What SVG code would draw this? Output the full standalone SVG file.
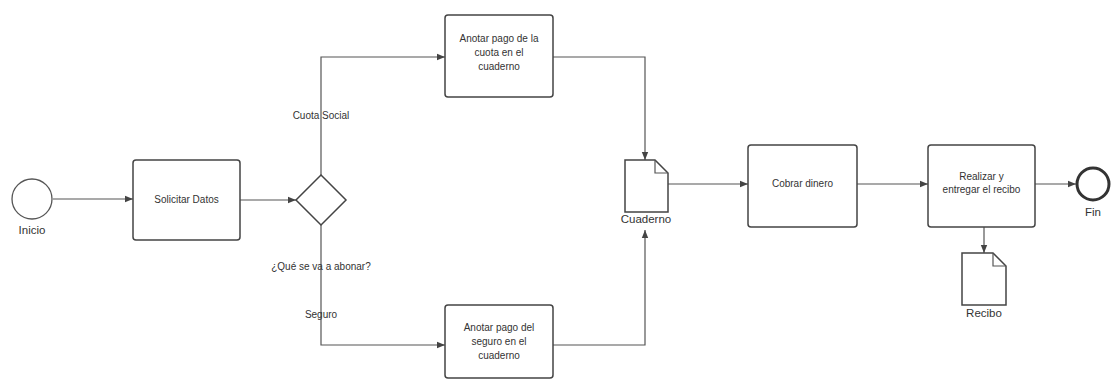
<svg xmlns="http://www.w3.org/2000/svg" width="1112" height="383" viewBox="0 0 1112 383">
<style>
.box{fill:#fff;stroke:#444;stroke-width:1.5}
.ln{fill:none;stroke:#555;stroke-width:1.2}
.t{font-family:"Liberation Sans",Arial,sans-serif;font-size:10px;fill:#333;text-anchor:middle}
.tl{font-family:"Liberation Sans",Arial,sans-serif;font-size:10px;fill:#333;text-anchor:middle}
.td{font-family:"Liberation Sans",Arial,sans-serif;font-size:11.5px;fill:#333;text-anchor:middle}
</style>
<defs>
<marker id="a" viewBox="0 0 10 10" refX="10" refY="5" markerWidth="7" markerHeight="7" orient="auto"><path d="M0,1 L10,5 L0,9 z" fill="#444"/></marker>
</defs>
<rect width="1112" height="383" fill="#fff"/>
<g id="connectors">
<path class="ln" d="M53,199 L133,199" marker-end="url(#a)"/>
<path class="ln" d="M240,200 L296,200" marker-end="url(#a)"/>
<path class="ln" d="M321,175 L321,57 L445,57" marker-end="url(#a)"/>
<path class="ln" d="M321,225 L321,345 L445,345" marker-end="url(#a)"/>
<path class="ln" d="M553,57 L645,57 L645,160" marker-end="url(#a)"/>
<path class="ln" d="M553,345 L645,345 L645,230" marker-end="url(#a)"/>
<path class="ln" d="M668,184 L748,184" marker-end="url(#a)"/>
<path class="ln" d="M857,184 L928,184" marker-end="url(#a)"/>
<path class="ln" d="M1035,184 L1076,184" marker-end="url(#a)"/>
<path class="ln" d="M984,227 L984,253" marker-end="url(#a)"/>
<text class="tl" x="321" y="119">Cuota Social</text>
<text class="tl" x="321" y="270">¿Qué se va a abonar?</text>
<text class="tl" x="321" y="318">Seguro</text>
</g>
<g id="inicio">
<circle cx="32" cy="199" r="20" fill="#fff" stroke="#555" stroke-width="1.3"/>
<text class="td" x="32" y="234">Inicio</text>
</g>
<g id="solicitar">
<rect class="box" x="133" y="160" width="107" height="80" rx="3"/>
<text class="t" x="186.5" y="203">Solicitar Datos</text>
</g>
<g id="gateway">
<path class="box" d="M321,175 L346,200 L321,225 L296,200 z"/>
</g>
<g id="anotar-cuota">
<rect class="box" x="445" y="15" width="108" height="82" rx="3"/>
<text class="t" x="499" y="42">Anotar pago de la</text>
<text class="t" x="499" y="56">cuota en el</text>
<text class="t" x="499" y="70">cuaderno</text>
</g>
<g id="anotar-seguro">
<rect class="box" x="445" y="305" width="108" height="73" rx="3"/>
<text class="t" x="499" y="331">Anotar pago del</text>
<text class="t" x="499" y="345">seguro en el</text>
<text class="t" x="499" y="359">cuaderno</text>
</g>
<g id="cuaderno">
<path class="box" d="M625,160 L655,160 L668,173 L668,212 L625,212 z"/>
<path class="ln" d="M655,160 L655,173 L668,173"/>
<text class="td" x="646" y="223">Cuaderno</text>
</g>
<g id="cobrar">
<rect class="box" x="748" y="145" width="109" height="82" rx="3"/>
<text class="t" x="802.5" y="187">Cobrar dinero</text>
</g>
<g id="realizar">
<rect class="box" x="928" y="145" width="107" height="82" rx="3"/>
<text class="t" x="981.5" y="180">Realizar y</text>
<text class="t" x="981.5" y="193">entregar el recibo</text>
</g>
<g id="recibo">
<path class="box" d="M962,253 L993,253 L1006,266 L1006,305 L962,305 z"/>
<path class="ln" d="M993,253 L993,266 L1006,266"/>
<text class="td" x="984" y="317">Recibo</text>
</g>
<g id="fin">
<circle cx="1093" cy="184" r="16" fill="#fff" stroke="#333" stroke-width="3"/>
<text class="td" x="1093" y="216">Fin</text>
</g>
</svg>
